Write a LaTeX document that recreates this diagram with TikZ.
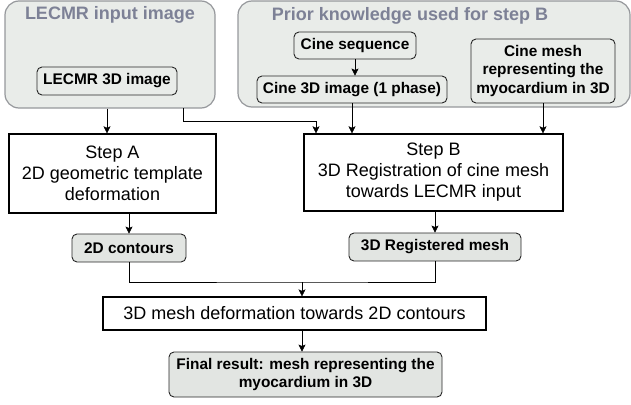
\documentclass[tikz,border=0pt]{standalone}
\usepackage{fontspec}
\setmainfont{Liberation Sans}
\usetikzlibrary{arrows.meta}
\definecolor{panelgray}{RGB}{233,236,233}
\definecolor{panelline}{RGB}{150,152,156}
\definecolor{titlegray}{RGB}{125,129,150}
\definecolor{resultgray}{RGB}{226,229,226}
\begin{document}
\begin{tikzpicture}[x=1pt,y=-1pt,>={Stealth[length=7pt,width=7pt,inset=1.5pt]},
    group/.style={draw=panelline,fill=panelgray,rounded corners=14pt,line width=1.2pt,inner sep=0pt},
    title/.style={text=titlegray,anchor=base,inner sep=0pt,font=\bfseries\fontsize{18}{21}\selectfont},
    inbox/.style={draw=black!85,fill=panelgray,rounded corners=5pt,line width=0.9pt,inner sep=0pt,align=center,font=\bfseries\fontsize{15.4}{18.5}\selectfont},
    outbox/.style={inbox,fill=resultgray},
    stepbox/.style={draw=black,fill=white,line width=1.4pt,inner sep=0pt,align=center,font=\fontsize{18}{21}\selectfont}]
    \useasboundingbox (0,0) rectangle (631,404);
    % input and prior knowledge panels
    \node[group,minimum width=210pt,minimum height=107pt] (lecmrpanel) at (110,54.5) {};
    \node[group,minimum width=392pt,minimum height=106pt] (priorpanel) at (434,54) {};
    \node[title] (lecmrtitle) at (110,20) {LECMR input image};
    \node[title] (priortitle) at (410,21) {Prior knowledge used for step B};
    \node[inbox,minimum width=140pt,minimum height=28pt] (lecmr3d) at (107,81) {LECMR 3D image};
    \node[inbox,minimum width=122pt,minimum height=27pt] (cineseq) at (355,45.5) {Cine sequence};
    \node[inbox,minimum width=190pt,minimum height=27pt] (cine3d) at (352,89.5) {Cine 3D image (1 phase)};
    \node[inbox,minimum width=144pt,minimum height=64pt] (cinemesh) at (543,71) {Cine mesh\\representing the\\myocardium in 3D};
    % the two steps
    \node[stepbox,minimum width=207pt,minimum height=79pt] (stepA) at (112.5,173.5) {Step A\\2D geometric template\\deformation};
    \node[stepbox,minimum width=259pt,minimum height=77pt] (stepB) at (433.5,172.5) {Step B\\3D Registration of cine mesh\\towards LECMR input};
    \node[outbox,minimum width=114pt,minimum height=28pt] (contours) at (129,248) {2D contours};
    \node[outbox,minimum width=172pt,minimum height=28pt] (regmesh) at (435,247) {3D Registered mesh};
    \node[stepbox,line width=1.2pt,minimum width=383pt,minimum height=33pt] (meshdef) at (294.5,313.5) {3D mesh deformation towards 2D contours};
    \node[outbox,minimum width=273pt,minimum height=45pt] (final) at (305.5,374.5) {Final result: mesh representing the\\myocardium in 3D};
    % connectors
    \coordinate (tap) at (183,108);
    \coordinate (knee) at (316,121);
    \coordinate (merge) at (302,282);
    \draw[->] (lecmr3d |- lecmrpanel.south) -- (lecmr3d |- stepA.north);
    \draw[->] (tap) |- (knee) -- (knee |- stepB.north);
    \draw[->] (cineseq) -- (cineseq |- cine3d.north);
    \draw[->] (cine3d.south) -- (cine3d.south |- stepB.north);
    \draw[->] (cinemesh.south) -- (cinemesh.south |- stepB.north);
    \draw[->] (contours.north |- stepA.south) -- (contours.north);
    \draw[->] (regmesh.north |- stepB.south) -- (regmesh.north);
    \draw (contours.south) |- (merge) -| (regmesh.south);
    \draw[->] (merge) -- (merge |- meshdef.north);
    \draw[->] (merge |- meshdef.south) -- (merge |- final.north);
\end{tikzpicture}
\end{document}
